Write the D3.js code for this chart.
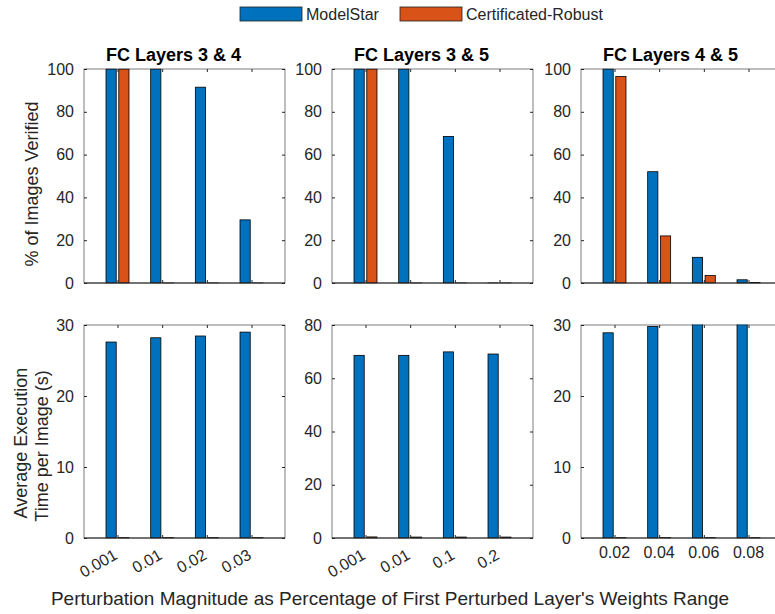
<!DOCTYPE html>
<html>
<head>
<meta charset="utf-8">
<script src="https://cdn.jsdelivr.net/npm/d3@7"></script>
<style>
  html, body { margin: 0; padding: 0; background: #fff; }
  svg { display: block; font-family: "Liberation Sans", Arial, Helvetica, sans-serif; }
</style>
</head>
<body>
<svg id="chart" width="775" height="614"></svg>
<script>
// ---------------- DATA ----------------
const seriesNames = ["ModelStar", "Certificated-Robust"];
const seriesColors = ["#0072BD", "#D95319"];

const panelTitles = ["FC Layers 3 & 4", "FC Layers 3 & 5", "FC Layers 4 & 5"];

const categories34 = ["0.001", "0.01", "0.02", "0.03"];
const categories35 = ["0.001", "0.01", "0.1", "0.2"];
const categories45 = ["0.02", "0.04", "0.06", "0.08"];

// % of images verified
const verifiedModelStar34 = [100, 100, 91.5, 29.5];
const verifiedCert34      = [100, 0, 0, 0];
const verifiedModelStar35 = [100, 100, 68.5, 0];
const verifiedCert35      = [100, 0, 0, 0];
const verifiedModelStar45 = [100, 52, 12, 1.5];
const verifiedCert45      = [96.5, 22, 3.5, 0.2];

// average execution time per image (s)
const timeModelStar34 = [27.6, 28.2, 28.45, 29.0];
const timeCert34      = [0.05, 0.05, 0.05, 0.05];
const timeModelStar35 = [68.6, 68.6, 69.9, 69.1];
const timeCert35      = [0.4, 0.35, 0.35, 0.35];
const timeModelStar45 = [28.9, 29.8, 30.3, 30.3];
const timeCert45      = [0.05, 0.05, 0.05, 0.05];

// tick values
const verifiedTicks = [0, 20, 40, 60, 80, 100];
const timeTicks34 = [0, 10, 20, 30];
const timeTicks35 = [0, 20, 40, 60, 80];
const timeTicks45 = [0, 10, 20, 30];

// ---------------- LAYOUT ----------------
const svg = d3.select("#chart");
const textColor = "#262626";
const panelLefts = [84, 332, 581];
const panelW = 201;
const rows = [
  { top: 69, bottom: 283 },
  { top: 325, bottom: 538 }
];

const panels = [
  { row: 0, col: 0, cats: categories34, s: [verifiedModelStar34, verifiedCert34], ymax: 100, ticks: verifiedTicks, xlabels: "none" },
  { row: 0, col: 1, cats: categories35, s: [verifiedModelStar35, verifiedCert35], ymax: 100, ticks: verifiedTicks, xlabels: "none" },
  { row: 0, col: 2, cats: categories45, s: [verifiedModelStar45, verifiedCert45], ymax: 100, ticks: verifiedTicks, xlabels: "none" },
  { row: 1, col: 0, cats: categories34, s: [timeModelStar34, timeCert34], ymax: 30, ticks: timeTicks34, xlabels: "rot" },
  { row: 1, col: 1, cats: categories35, s: [timeModelStar35, timeCert35], ymax: 80, ticks: timeTicks35, xlabels: "rot" },
  { row: 1, col: 2, cats: categories45, s: [timeModelStar45, timeCert45], ymax: 30, ticks: timeTicks45, xlabels: "flat" }
];

const barOffsets = [-0.1429, 0.1429];
const barWidthU = 0.2286;

const defs = svg.append("defs");

panels.forEach((p, pi) => {
  const left = panelLefts[p.col];
  const right = left + panelW;
  const top = rows[p.row].top;
  const bottom = rows[p.row].bottom;

  const x = d3.scaleLinear().domain([0.25, 4.75]).range([left, right]);
  const y = d3.scaleLinear().domain([0, p.ymax]).range([bottom, top]);

  const g = svg.append("g");

  defs.append("clipPath").attr("id", "clip" + pi)
    .append("rect").attr("x", left).attr("y", top - 0.5)
    .attr("width", panelW).attr("height", bottom - top + 1);

  const bars = g.append("g").attr("clip-path", `url(#clip${pi})`);
  p.s.forEach((vals, si) => {
    bars.selectAll(null)
      .data(vals.map((v, i) => ({ v, i })))
      .enter().append("rect")
      .attr("x", d => x(d.i + 1 + barOffsets[si] - barWidthU / 2))
      .attr("width", d => x(d.i + 1 + barOffsets[si] + barWidthU / 2) - x(d.i + 1 + barOffsets[si] - barWidthU / 2))
      .attr("y", d => y(d.v))
      .attr("height", d => Math.max(0.01, y(0) - y(d.v)))
      .attr("fill", seriesColors[si])
      .attr("stroke", "#000")
      .attr("stroke-width", 0.8);
  });

  const catTicks = [1, 2, 3, 4];
  const ax = (a) => a.attr("color", textColor).call(s => s.select(".domain").remove());

  g.append("g").attr("transform", `translate(${left},0)`)
    .call(d3.axisLeft(y).tickValues(p.ticks).tickSize(-3).tickSizeOuter(0).tickPadding(10).tickFormat(d3.format("d")))
    .call(ax)
    .call(s => s.selectAll("text").attr("font-size", 16).attr("fill", textColor)
      .attr("font-family", "Liberation Sans, Arial, sans-serif"));
  g.append("g").attr("transform", `translate(${right},0)`)
    .call(d3.axisRight(y).tickValues(p.ticks).tickSize(-3).tickSizeOuter(0).tickFormat(""))
    .call(ax);
  g.append("g").attr("transform", `translate(0,${top})`)
    .call(d3.axisTop(x).tickValues(catTicks).tickSize(-3).tickSizeOuter(0).tickFormat(""))
    .call(ax);
  g.append("g").attr("transform", `translate(0,${bottom})`)
    .call(d3.axisBottom(x).tickValues(catTicks).tickSize(-3).tickSizeOuter(0).tickFormat(""))
    .call(ax);

  g.append("rect").attr("x", left).attr("y", top).attr("width", panelW).attr("height", bottom - top)
    .attr("fill", "none").attr("stroke", textColor).attr("stroke-width", 0.6);
  g.append("line").attr("x1", left).attr("x2", right).attr("y1", y(0)).attr("y2", y(0))
    .attr("stroke", textColor).attr("stroke-width", 1);

  if (p.xlabels === "rot") {
    g.selectAll(null).data(p.cats).enter().append("text")
      .attr("transform", (d, i) => `translate(${x(i + 1) + 1},${bottom + 20}) rotate(-30)`)
      .attr("text-anchor", "end")
      .attr("font-size", 16).attr("fill", textColor)
      .text(d => d);
  } else if (p.xlabels === "flat") {
    g.selectAll(null).data(p.cats).enter().append("text")
      .attr("x", (d, i) => x(i + 1)).attr("y", bottom + 20)
      .attr("text-anchor", "middle")
      .attr("font-size", 16).attr("fill", textColor)
      .text(d => d);
  }

  if (p.row === 0) {
    svg.append("text")
      .attr("x", left + panelW / 2 - 11).attr("y", 61)
      .attr("text-anchor", "middle")
      .attr("font-size", 18).attr("font-weight", "bold").attr("fill", "#000")
      .text(panelTitles[p.col]);
  }
});

svg.append("text")
  .attr("transform", "translate(38,184) rotate(-90)")
  .attr("text-anchor", "middle").attr("font-size", 18).attr("fill", textColor)
  .text("% of Images Verified");
svg.append("text")
  .attr("transform", "translate(27,443) rotate(-90)")
  .attr("text-anchor", "middle").attr("font-size", 18).attr("fill", textColor)
  .text("Average Execution");
svg.append("text")
  .attr("transform", "translate(48,446) rotate(-90)")
  .attr("text-anchor", "middle").attr("font-size", 18).attr("fill", textColor)
  .text("Time per Image (s)");

svg.append("text")
  .attr("x", 390).attr("y", 605)
  .attr("text-anchor", "middle").attr("font-size", 19).attr("fill", textColor)
  .text("Perturbation Magnitude as Percentage of First Perturbed Layer's Weights Range");

const legendItems = [
  { name: seriesNames[0], color: seriesColors[0], x: 240, tx: 306 },
  { name: seriesNames[1], color: seriesColors[1], x: 400, tx: 466 }
];
const lg = svg.append("g");
legendItems.forEach(it => {
  lg.append("rect").attr("x", it.x).attr("y", 7).attr("width", 62).attr("height", 14)
    .attr("fill", it.color).attr("stroke", "#222").attr("stroke-width", 0.8);
  lg.append("text").attr("x", it.tx).attr("y", 20)
    .attr("font-size", 16).attr("fill", textColor).text(it.name);
});
</script>
</body>
</html>
